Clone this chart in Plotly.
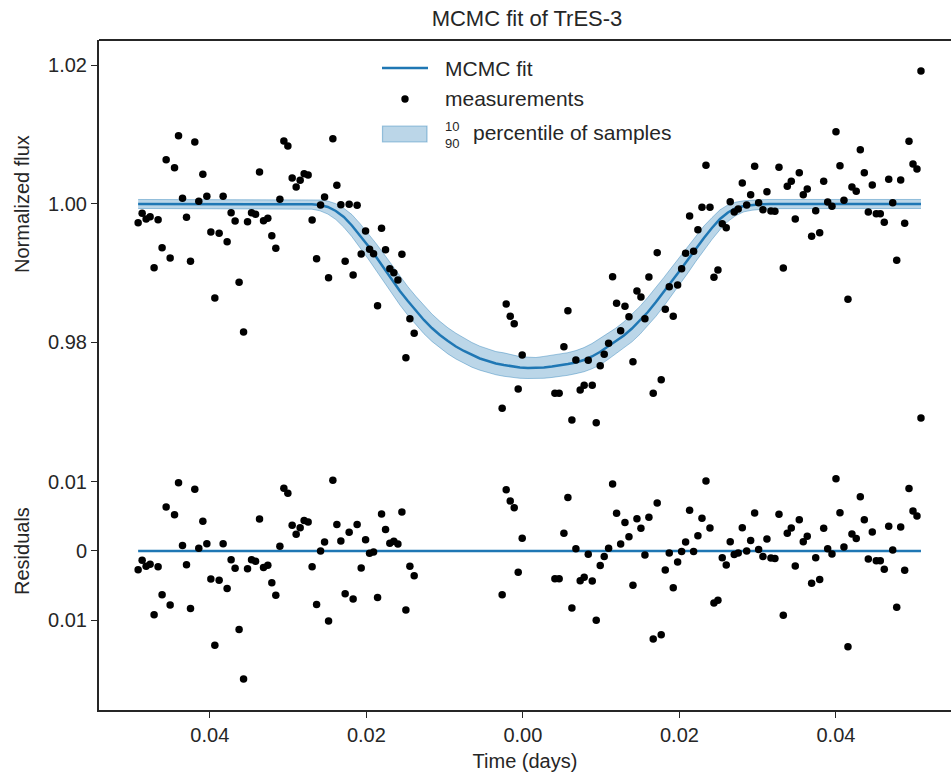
import plotly.graph_objects as go

# ---------------- data ----------------
time_days = [
    -0.04916, -0.04865, -0.04814, -0.04763, -0.04712, -0.04661, -0.04610, -0.04558, -0.04507, -0.04451,
    -0.04400, -0.04349, -0.04298, -0.04247, -0.04192, -0.04141, -0.04089, -0.04038, -0.03987, -0.03936,
    -0.03881, -0.03830, -0.03779, -0.03728, -0.03677, -0.03626, -0.03569, -0.03518, -0.03467, -0.03416,
    -0.03365, -0.03314, -0.03259, -0.03208, -0.03157, -0.03105, -0.03054, -0.03003, -0.02948, -0.02897,
    -0.02846, -0.02795, -0.02744, -0.02693, -0.02636, -0.02585, -0.02534, -0.02483, -0.02428, -0.02377,
    -0.02326, -0.02271, -0.02220, -0.02169, -0.02118, -0.02066, -0.02010, -0.01959, -0.01908, -0.01857,
    -0.01806, -0.01755, -0.01700, -0.01649, -0.01597, -0.01546, -0.01495, -0.01444, -0.01389,
    -0.00265, -0.00213, -0.00162, -0.00111, -0.00060, -0.00009,
    0.00409, 0.00463, 0.00524, 0.00575, 0.00626, 0.00677, 0.00732, 0.00783, 0.00835, 0.00886,
    0.00937, 0.00988, 0.01039, 0.01095, 0.01146, 0.01197, 0.01249, 0.01304, 0.01355, 0.01406,
    0.01457, 0.01508, 0.01559, 0.01610, 0.01665, 0.01716, 0.01767, 0.01819, 0.01870, 0.01921,
    0.01977, 0.02028, 0.02079, 0.02130, 0.02181, 0.02236, 0.02288, 0.02339, 0.02390, 0.02441,
    0.02492, 0.02547, 0.02598, 0.02649, 0.02700, 0.02751, 0.02803, 0.02859, 0.02910, 0.02961,
    0.03012, 0.03067, 0.03118, 0.03169, 0.03220, 0.03272, 0.03327, 0.03378, 0.03429, 0.03480,
    0.03531, 0.03582, 0.03633, 0.03689, 0.03741, 0.03792, 0.03843, 0.03894, 0.03949, 0.04000,
    0.04051, 0.04102, 0.04153, 0.04204, 0.04259, 0.04311, 0.04362, 0.04413, 0.04464, 0.04515,
    0.04566, 0.04617, 0.04674, 0.04725, 0.04776, 0.04827, 0.04878, 0.04933, 0.04984, 0.05035,
    0.05086,
]

flux = [
    0.99730, 0.99866, 0.99783, 0.99817, 0.99080, 0.99773, 0.99369, 1.00640, 0.99220, 1.00524,
    1.00986, 1.00082, 0.99808, 0.99173, 1.00895, 1.00039, 1.00429, 1.00111, 0.99596, 0.98643,
    0.99577, 1.00111, 0.99456, 0.99874, 0.99755, 0.98869, 0.98152, 0.99744, 0.99874, 0.99851,
    1.00462, 0.99759, 0.99794, 0.99542, 0.99360, 1.00068, 1.00910, 1.00838, 1.00375, 1.00245,
    1.00342, 1.00438, 1.00419, 0.99769, 0.99210, 0.99986, 1.00101, 0.98936, 1.00943, 1.00270,
    0.99990, 0.99173, 0.99996, 0.98975, 0.99981, 0.99278, 0.99610, 0.99346, 0.99282, 0.98531,
    0.99649, 0.99340, 0.99066, 0.99008, 0.98903, 0.99274, 0.97781, 0.98344, 0.98133,
    0.97050, 0.98556, 0.98378, 0.98272, 0.97329, 0.97820,
    0.97266, 0.97266, 0.97939, 0.98459, 0.96881, 0.97747, 0.97314, 0.97382, 0.97743, 0.97382,
    0.96842, 0.97665, 0.97830, 0.97988, 0.98950, 0.98566, 0.98170, 0.98523, 0.98373, 0.97723,
    0.98744, 0.98657, 0.98344, 0.98946, 0.97266, 0.99297, 0.97463, 0.98479, 0.98806, 0.98378,
    0.98830, 0.99066, 0.99288, 0.99827, 0.99317, 0.99629, 0.99952, 1.00559, 0.99952, 0.98942,
    0.99047, 0.99716, 0.99658, 1.00033, 0.99884, 0.99928, 1.00303, 0.99986, 1.00134, 1.00544,
    1.00019, 0.99918, 1.00178, 0.99899, 0.99895, 1.00530, 0.99076, 1.00256, 1.00328, 0.99783,
    1.00452, 1.00134, 1.00217, 0.99534, 0.99903, 0.99586, 1.00328, 1.00029, 0.99967, 1.01044,
    1.00553, 1.00053, 0.98624, 1.00245, 1.00183, 1.00784, 1.00452, 0.99884, 1.00274, 0.99860,
    0.99860, 0.99736, 1.00357, 1.00019, 0.99187, 1.00347, 0.99721, 1.00905, 1.00578, 1.00505,
    1.01921,
]

residuals = [
    -0.00270, -0.00134, -0.00221, -0.00192, -0.00920, -0.00227, -0.00631, 0.00635, -0.00780, 0.00524,
    0.00986, 0.00077, -0.00198, -0.00833, 0.00891, 0.00039, 0.00429, 0.00105, -0.00404, -0.01362,
    -0.00423, 0.00105, -0.00544, -0.00126, -0.00250, -0.01136, -0.01848, -0.00256, -0.00126, -0.00149,
    0.00462, -0.00241, -0.00206, -0.00458, -0.00640, 0.00068, 0.00905, 0.00833, 0.00371, 0.00241,
    0.00336, 0.00438, 0.00419, -0.00227, -0.00775, 0.00000, 0.00130, -0.01011, 0.01021, 0.00380,
    0.00144, -0.00617, 0.00270, -0.00693, 0.00380, -0.00245, 0.00163, -0.00033, -0.00014, -0.00674,
    0.00534, 0.00308, 0.00111, 0.00140, 0.00101, 0.00563, -0.00852, -0.00221, -0.00357,
    -0.00631, 0.00885, 0.00722, 0.00625, -0.00308, 0.00183,
    -0.00400, -0.00400, 0.00256, 0.00770, -0.00823, 0.00033, -0.00429, -0.00380, -0.00048, -0.00433,
    -0.01001, -0.00212, -0.00082, 0.00039, 0.00967, 0.00544, 0.00101, 0.00409, 0.00206, -0.00495,
    0.00466, 0.00328, -0.00058, 0.00487, -0.01271, 0.00693, -0.01209, -0.00274, -0.00029, -0.00530,
    -0.00159, -0.00010, 0.00130, 0.00588, -0.00010, 0.00221, 0.00472, 0.01011, 0.00332, -0.00751,
    -0.00712, -0.00097, -0.00202, 0.00134, -0.00053, -0.00029, 0.00336, 0.00000, 0.00149, 0.00549,
    0.00019, -0.00082, 0.00173, -0.00101, -0.00111, 0.00530, -0.00928, 0.00256, 0.00332, -0.00217,
    0.00452, 0.00134, 0.00212, -0.00466, -0.00097, -0.00414, 0.00328, 0.00033, -0.00043, 0.01044,
    0.00553, 0.00058, -0.01382, 0.00245, 0.00178, 0.00784, 0.00452, -0.00116, 0.00274, -0.00140,
    -0.00140, -0.00264, 0.00357, 0.00014, -0.00813, 0.00347, -0.00279, 0.00900, 0.00578, 0.00505,
    0.01921,
]

# MCMC model curve and 10/90 percentile envelope
model_time = [
    -0.04916, -0.02850, -0.02696, -0.02594, -0.02492, -0.02390, -0.02288, -0.02185, -0.02083, -0.01981,
    -0.01879, -0.01776, -0.01674, -0.01572, -0.01470, -0.01367, -0.01265, -0.01163, -0.01061, -0.00958,
    -0.00856, -0.00754, -0.00652, -0.00550, -0.00447, -0.00345, -0.00243, -0.00141, -0.00038, 0.00064,
    0.00166, 0.00268, 0.00371, 0.00473, 0.00575, 0.00677, 0.00780, 0.00882, 0.00984, 0.01086,
    0.01188, 0.01291, 0.01393, 0.01495, 0.01597, 0.01700, 0.01802, 0.01904, 0.02006, 0.02109,
    0.02211, 0.02313, 0.02415, 0.02518, 0.02620, 0.02722, 0.02824, 0.02927, 0.03029, 0.03157,
    0.05086,
]
model_flux = [
    1.00000, 1.00000, 0.99996, 0.99986, 0.99957, 0.99899, 0.99812, 0.99690, 0.99552, 0.99401,
    0.99242, 0.99076, 0.98910, 0.98744, 0.98599, 0.98455, 0.98325, 0.98209, 0.98108, 0.98022,
    0.97942, 0.97877, 0.97820, 0.97769, 0.97733, 0.97697, 0.97675, 0.97654, 0.97639, 0.97632,
    0.97632, 0.97639, 0.97654, 0.97668, 0.97690, 0.97711, 0.97747, 0.97798, 0.97863, 0.97942,
    0.98022, 0.98101, 0.98202, 0.98318, 0.98440, 0.98585, 0.98729, 0.98888, 0.99040, 0.99199,
    0.99365, 0.99509, 0.99653, 0.99783, 0.99877, 0.99942, 0.99971, 0.99986, 0.99996, 1.00000,
    1.00000,
]
band_upper = [
    1.00065, 1.00065, 1.00065, 1.00058, 1.00042, 1.00004, 0.99938, 0.99847, 0.99720, 0.99583,
    0.99434, 0.99278, 0.99119, 0.98959, 0.98806, 0.98666, 0.98533, 0.98412, 0.98306, 0.98212,
    0.98134, 0.98061, 0.98000, 0.97947, 0.97903, 0.97869, 0.97850, 0.97818, 0.97796, 0.97788,
    0.97783, 0.97799, 0.97814, 0.97831, 0.97853, 0.97883, 0.97926, 0.97984, 0.98055, 0.98131,
    0.98208, 0.98299, 0.98404, 0.98521, 0.98653, 0.98791, 0.98940, 0.99089, 0.99239, 0.99396,
    0.99544, 0.99682, 0.99802, 0.99915, 0.99987, 1.00027, 1.00046, 1.00058, 1.00062, 1.00065,
    1.00065,
]
band_lower = [
    0.99935, 0.99935, 0.99925, 0.99902, 0.99854, 0.99776, 0.99664, 0.99528, 0.99376, 0.99214,
    0.99046, 0.98874, 0.98702, 0.98542, 0.98393, 0.98253, 0.98127, 0.98016, 0.97919, 0.97835,
    0.97762, 0.97698, 0.97643, 0.97600, 0.97563, 0.97534, 0.97512, 0.97493, 0.97483, 0.97480,
    0.97480, 0.97483, 0.97495, 0.97509, 0.97526, 0.97550, 0.97577, 0.97620, 0.97674, 0.97753,
    0.97835, 0.97918, 0.98009, 0.98118, 0.98241, 0.98378, 0.98527, 0.98683, 0.98845, 0.99005,
    0.99173, 0.99336, 0.99486, 0.99629, 0.99749, 0.99834, 0.99887, 0.99910, 0.99925, 0.99933,
    0.99935,
]

residual_offset = 0.9499        # residuals are drawn shifted below the light curve
x_tick_vals = [-0.04, -0.02, 0.00, 0.02, 0.04]
x_tick_text = ["0.04", "0.02", "0.00", "0.02", "0.04"]
y_tick_vals = [1.02, 1.00, 0.98, residual_offset + 0.01, residual_offset, residual_offset - 0.01]
y_tick_text = ["1.02", "1.00", "0.98", "0.01", "0", "0.01"]
legend_labels = ["MCMC fit", "measurements", "percentile of samples"]
legend_fraction = ["10", "90"]

# ---------------- figure ----------------
BLUE = "#1f77b4"
BAND_FILL = "rgba(31,119,180,0.30)"
BAND_EDGE = "rgba(31,119,180,0.40)"
TXT = "#262626"
FONT = "Liberation Sans, Arial, sans-serif"

fig = go.Figure()

fig.add_trace(go.Scatter(
    x=model_time, y=band_lower, mode="lines",
    line=dict(color=BAND_EDGE, width=1), hoverinfo="skip"))
fig.add_trace(go.Scatter(
    x=model_time, y=band_upper, mode="lines", fill="tonexty",
    fillcolor=BAND_FILL, line=dict(color=BAND_EDGE, width=1),
    name="10/90 percentile of samples"))
fig.add_trace(go.Scatter(
    x=model_time, y=model_flux, mode="lines",
    line=dict(color=BLUE, width=2.5), name="MCMC fit"))
fig.add_trace(go.Scatter(
    x=[time_days[0], time_days[-1]], y=[residual_offset, residual_offset], mode="lines",
    line=dict(color=BLUE, width=2.5), hoverinfo="skip"))
fig.add_trace(go.Scatter(
    x=time_days, y=flux, mode="markers",
    marker=dict(color="black", size=7.5), name="measurements"))
fig.add_trace(go.Scatter(
    x=time_days, y=[residual_offset + r for r in residuals], mode="markers",
    marker=dict(color="black", size=7.5), name="residuals"))

W, H = 951, 780
ML, MR, MT, MB = 99, 0, 40, 70
PW, PH = W - ML - MR, H - MT - MB


def px_x(p):
    return (p - ML) / PW


def px_y(p):
    return 1 - (p - MT) / PH


axis_common = dict(
    showgrid=False, zeroline=False, showline=True, linecolor=TXT, linewidth=2,
    ticks="outside", ticklen=6, tickwidth=1.4, tickcolor=TXT,
    tickfont=dict(family=FONT, size=20, color=TXT), mirror=False,
)

# hand-drawn legend (matplotlib-style, with the stacked 10/90 fraction)
legend_shapes = [
    dict(type="line", xref="paper", yref="paper",
         x0=px_x(382), x1=px_x(428), y0=px_y(68), y1=px_y(68),
         line=dict(color=BLUE, width=2.5)),
    dict(type="circle", xref="paper", yref="paper",
         x0=px_x(401.3), x1=px_x(408.7), y0=px_y(95.3), y1=px_y(102.7),
         fillcolor="black", line=dict(color="black", width=0)),
    dict(type="rect", xref="paper", yref="paper",
         x0=px_x(382.5), x1=px_x(427), y0=px_y(126), y1=px_y(142),
         fillcolor=BAND_FILL, line=dict(color=BAND_EDGE, width=1.2)),
]
legend_annots = [
    dict(text=legend_labels[0], x=px_x(443), y=px_y(68), xanchor="left", yanchor="middle"),
    dict(text=legend_labels[1], x=px_x(443), y=px_y(98), xanchor="left", yanchor="middle"),
    dict(text=legend_labels[2], x=px_x(471), y=px_y(133), xanchor="left", yanchor="middle"),
]
for a in legend_annots:
    a.update(xref="paper", yref="paper", showarrow=False,
             font=dict(family=FONT, size=21, color=TXT))
frac_annot = dict(
    text=legend_fraction[0] + "<br>" + legend_fraction[1],
    x=px_x(452), y=px_y(135), xref="paper", yref="paper", showarrow=False,
    xanchor="center", yanchor="middle", align="center",
    font=dict(family=FONT, size=13, color=TXT))

fig.update_layout(
    width=W, height=H,
    margin=dict(l=ML, r=MR, t=MT, b=MB),
    paper_bgcolor="white", plot_bgcolor="white",
    showlegend=False,
    font=dict(family=FONT, size=20, color=TXT),
    title=dict(text="MCMC fit of TrES-3", x=px_x(527), xref="paper",
               y=1 - 18 / H, yref="container", xanchor="center", yanchor="middle",
               font=dict(family=FONT, size=22, color=TXT)),
    xaxis=dict(range=[-0.05416, (W - 523) / 7825], tickvals=x_tick_vals, ticktext=x_tick_text,
               title=dict(text="Time (days)", font=dict(family=FONT, size=20, color=TXT), standoff=9),
               **axis_common),
    yaxis=dict(range=[0.92693, 1.02368], tickvals=y_tick_vals, ticktext=y_tick_text,
               **axis_common),
    shapes=[dict(type="line", xref="paper", yref="paper", x0=0, x1=1, y0=1, y1=1,
                 line=dict(color=TXT, width=2))] + legend_shapes,
    annotations=[
        dict(text="Normalized flux", x=px_x(22), y=px_y(204), xref="paper", yref="paper",
             textangle=-90, showarrow=False, xanchor="center", yanchor="middle",
             font=dict(family=FONT, size=20, color=TXT)),
        dict(text="Residuals", x=px_x(22), y=px_y(551), xref="paper", yref="paper",
             textangle=-90, showarrow=False, xanchor="center", yanchor="middle",
             font=dict(family=FONT, size=20, color=TXT)),
    ] + legend_annots + [frac_annot],
)

fig.write_html("out.html")
